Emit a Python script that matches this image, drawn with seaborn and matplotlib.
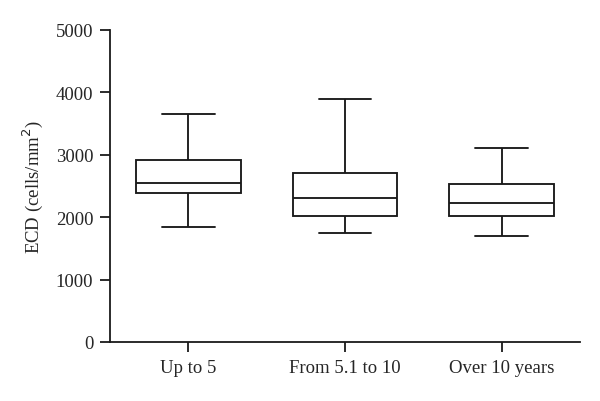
import pandas as pd
import numpy as np
import matplotlib
matplotlib.use("Agg")
import matplotlib.pyplot as plt
import seaborn as sns

# ECD box summaries: min, Q1, median, Q3, max
groups = ["Up to 5", "From 5.1 to 10", "Over 10 years"]
up_to_5 = [1840, 2380, 2540, 2920, 3655]
from_5_to_10 = [1752, 2025, 2315, 2715, 3895]
over_10 = [1695, 2015, 2225, 2535, 3105]

df = pd.DataFrame({
    "group": np.repeat(groups, 5),
    "ecd": up_to_5 + from_5_to_10 + over_10,
})

sns.set_style("ticks")
plt.rcParams["font.family"] = ["Liberation Serif", "DejaVu Serif"]

fig = plt.figure(figsize=(6, 4.02), dpi=100)
ax = fig.add_axes([0.1833, 0.1468, 0.7834, 0.7761])

sns.boxplot(data=df, x="group", y="ecd", order=groups, whis=(0, 100),
            color="white", linecolor="#1a1a1a", linewidth=1.35, width=0.67,
            ax=ax)

ax.set_xlim(-0.5, 2.5)
ax.set_ylim(0, 5000)
ax.set_yticks(range(0, 5001, 1000))
ax.set_xlabel("")
ax.set_ylabel("ECD (cells/mm$^2$)", fontsize=13.5, labelpad=8)
ax.tick_params(axis="both", labelsize=13.5, length=7, width=1.3, color="#1a1a1a", pad=5)
for s in ["left", "bottom"]:
    ax.spines[s].set_linewidth(1.3)
    ax.spines[s].set_color("#1a1a1a")
sns.despine(ax=ax)

fig.savefig("out.png", dpi=100)
